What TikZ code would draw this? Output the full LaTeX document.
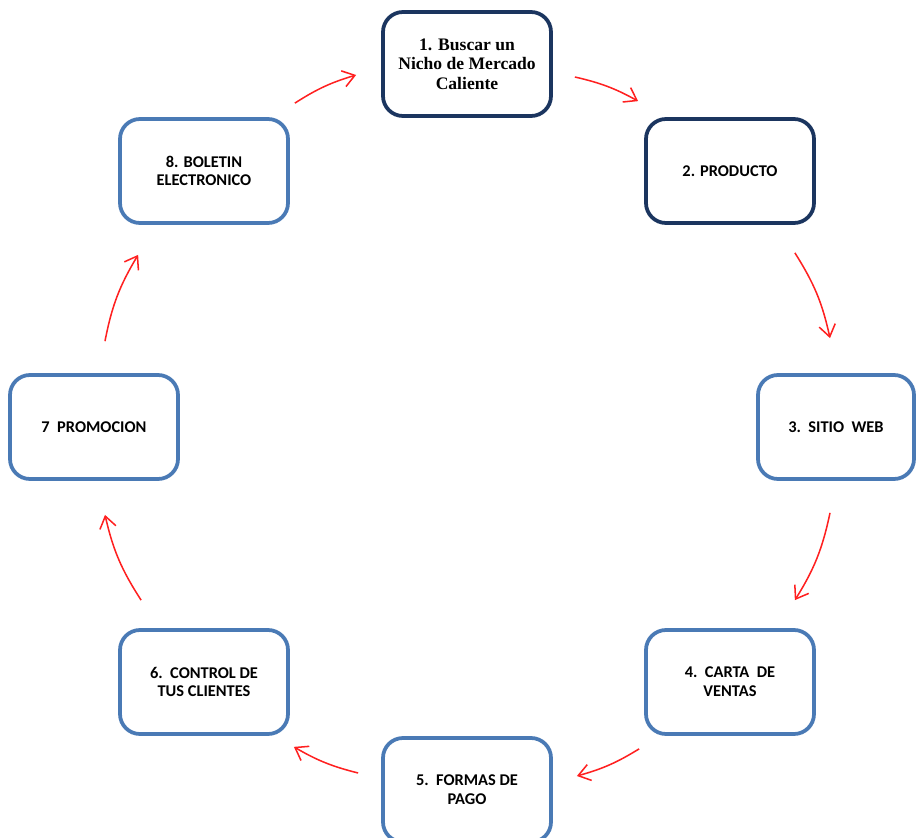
\documentclass[tikz,border=0pt]{standalone}
\usepackage{fontspec}
\setmainfont{Liberation Serif}
\newfontfamily\boxfont{Carlito}
\usetikzlibrary{arrows.meta,calc}
\definecolor{navyline}{HTML}{1B355F}
\definecolor{steelline}{HTML}{4A7AB5}
\definecolor{flowred}{HTML}{FF2020}

\begin{document}
\begin{tikzpicture}[
    x=0.03cm, y=-0.03cm,
    stepbox/.style={draw=steelline, fill=white, rounded corners=0.6cm, line width=3.2pt, minimum width=5.04cm, minimum height=3.12cm, align=center, font=\boxfont\bfseries\fontsize{14}{16}\selectfont},
    keybox/.style={stepbox, draw=navyline},
    flow/.style={draw=flowred, line width=1.3pt, -{Straight Barb[length=10pt,width=14pt,line width=1.3pt]}}
]
    \useasboundingbox (0,0) rectangle (916,838);

    % the eight steps
    \node[keybox, font=\rmfamily\bfseries\fontsize{15}{16.5}\selectfont] (n1) at (467,64) {1. Buscar un\\Nicho de Mercado\\Caliente};
    \node[keybox] (n2) at (730,171) {2. PRODUCTO};
    \node[stepbox, minimum width=4.68cm] (n3) at (836,427) {3.\ \ SITIO\ \ WEB};
    \node[stepbox] (n4) at (730,682) {4.\ \ CARTA\ \ DE\\VENTAS};
    \node[stepbox] (n5) at (467,790) {5.\ \ FORMAS DE\\PAGO};
    \node[stepbox] (n6) at (204,682) {6.\ \ CONTROL DE\\TUS CLIENTES};
    \node[stepbox] (n7) at (94,427) {7\ \ PROMOCION};
    \node[stepbox] (n8) at (204,171) {8. BOLETIN\\ELECTRONICO};

    % cycle arrows
    \draw[flow] ($(n1.east)+(22,13)$) to[bend left=8] ($(n2.north west)+(-6,-16)$);
    \draw[flow] ($(n2.south east)+(-21,28)$) to[bend left=10] ($(n3.north)+(-6,-35)$);
    \draw[flow] ($(n3.south)+(-6,32)$) to[bend left=10] ($(n4.north east)+(-21,-28)$);
    \draw[flow] ($(n4.south west)+(-5,13)$) to[bend left=8] ($(n5.east)+(24,-14)$);
    \draw[flow] ($(n5.west)+(-23,-17)$) to[bend left=8] ($(n6.south east)+(4,11)$);
    \draw[flow] ($(n6.north west)+(23,-28)$) to[bend left=10] ($(n7.south)+(11,34)$);
    \draw[flow] ($(n7.north)+(11,-32)$) to[bend left=10] ($(n8.south west)+(20,30)$);
    \draw[flow] ($(n8.north east)+(5,-14)$) to[bend left=8] ($(n1.west)+(-25,11)$);

\end{tikzpicture}
\end{document}
